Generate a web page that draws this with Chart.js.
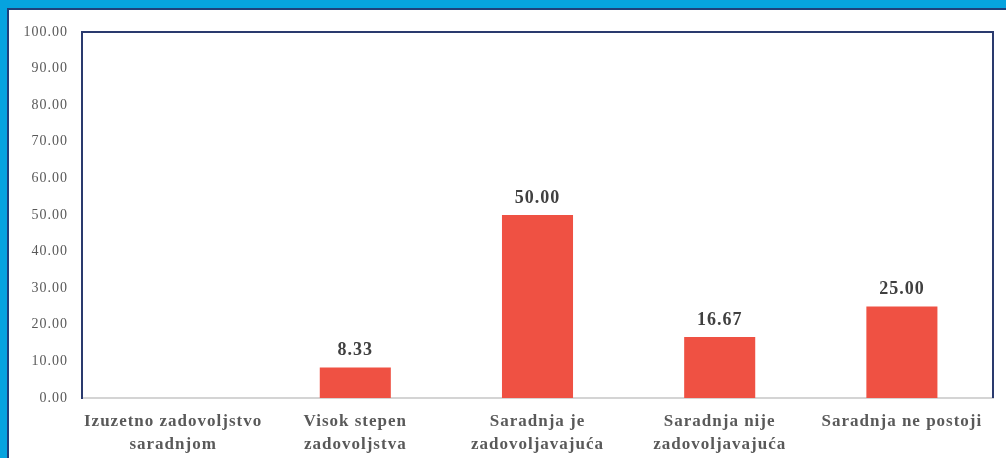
<!DOCTYPE html>
<html><head><meta charset="utf-8">
<script src="https://cdn.jsdelivr.net/npm/chart.js@4/dist/chart.umd.min.js"></script>
<style>
html,body{margin:0;padding:0;width:1006px;height:458px;overflow:hidden;background:#06a3df;}
#panel{position:absolute;left:7px;top:8px;right:0;bottom:0;background:#fff;border-left:2px solid #1f3f7a;border-top:2px solid #1f3f7a;}
#wrap{position:absolute;left:0;top:0;width:1006px;height:458px;}
</style></head>
<body>
<div id="panel"></div>
<div id="wrap"><canvas id="c" width="1006" height="458"></canvas></div>
<script>
const categories = [
  ["Izuzetno zadovoljstvo","saradnjom"],
  ["Visok stepen","zadovoljstva"],
  ["Saradnja je","zadovoljavajuća"],
  ["Saradnja nije","zadovoljavajuća"],
  ["Saradnja ne postoji"]
];
const values = [0, 8.33, 50.00, 16.67, 25.00];
const yTicks = {min: 0, max: 100, step: 10};

const spacingPlugin = {
  id: 'spacing',
  beforeDraw(chart) { chart.ctx.letterSpacing = '1px'; }
};
const framePlugin = {
  id: 'frame',
  afterDraw(chart) {
    const {ctx, chartArea: a} = chart;
    ctx.save();
    ctx.strokeStyle = '#2a3a6e';
    ctx.lineWidth = 2;
    ctx.beginPath();
    ctx.moveTo(a.left, a.top);
    ctx.lineTo(a.right, a.top);
    ctx.lineTo(a.right, a.bottom);
    ctx.stroke();
    ctx.restore();
  }
};
const labelPlugin = {
  id: 'vlabels',
  afterDatasetsDraw(chart) {
    const {ctx} = chart;
    const meta = chart.getDatasetMeta(0);
    ctx.save();
    ctx.letterSpacing = '1px';
    ctx.font = 'bold 18px "Liberation Serif", serif';
    ctx.fillStyle = '#404040';
    ctx.textAlign = 'center';
    ctx.textBaseline = 'bottom';
    meta.data.forEach((el, i) => {
      const v = values[i];
      if (!v) return;
      ctx.fillText(v.toFixed(2), el.x, el.y - 8);
    });
    ctx.restore();
  }
};

new Chart(document.getElementById('c'), {
  type: 'bar',
  data: {
    labels: categories,
    datasets: [{
      data: values,
      backgroundColor: '#ef5143',
      categoryPercentage: 1,
      barPercentage: 0.39
    }]
  },
  options: {
    responsive: false,
    animation: false,
    layout: {padding: {top: 32, right: 13, left: 0, bottom: 0}},
    plugins: {legend: {display: false}, tooltip: {enabled: false}},
    scales: {
      x: {
        grid: {display: false, drawTicks: false},
        border: {display: true, color: '#d4d4d4', width: 2},
        ticks: {
          color: '#595959',
          font: {family: '"Liberation Serif", serif', size: 17, weight: 'bold', lineHeight: 1.3},
          padding: 13,
          maxRotation: 0, autoSkip: false
        },
        afterFit(s) { s.height = 60; }
      },
      y: {
        min: yTicks.min, max: yTicks.max,
        grid: {display: false, drawTicks: false},
        border: {display: true, color: '#2a3a6e', width: 2},
        ticks: {
          stepSize: yTicks.step,
          color: '#595959',
          font: {family: '"Liberation Serif", serif', size: 14},
          padding: 14,
          callback: v => v.toFixed(2)
        },
        afterFit(s) { s.width = 82; }
      }
    }
  },
  plugins: [spacingPlugin, framePlugin, labelPlugin]
});
</script>
</body></html>
